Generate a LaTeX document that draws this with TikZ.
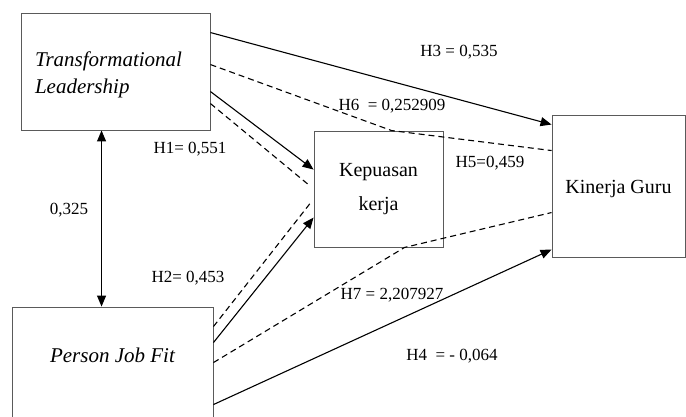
\documentclass[tikz,border=0pt]{standalone}
\usepackage{fontspec}
\setmainfont{Liberation Serif}
\usetikzlibrary{arrows.meta,calc}
\definecolor{boxgray}{HTML}{5A5A5A}
\begin{document}
\begin{tikzpicture}[x=1pt,y=-1pt,
  box/.style={draw=boxgray,line width=0.9pt,inner sep=0pt},
  boxtext/.style={font=\fontsize{20}{27}\selectfont,inner sep=0pt},
  ittext/.style={font=\fontsize{21}{27}\selectfont\itshape,inner sep=0pt},
  lbl/.style={font=\fontsize{17}{20}\selectfont,inner sep=0pt},
  solidarrow/.style={line width=1.1pt,-{Triangle[length=11pt,width=9pt]}},
  dashline/.style={line width=1.1pt,dash pattern=on 6pt off 4pt}]
\useasboundingbox (0,0) rectangle (686,416);
\clip (0,0) rectangle (686,416);
% boxes
\node[box,minimum width=189pt,minimum height=117pt,
  label={[ittext,align=left,text width=161pt,yshift=-3pt]center:Transformational\\Leadership}]
  (tl) at (115.5,71.5) {};
\node[box,minimum width=201pt,minimum height=123pt,
  label={[ittext,yshift=13pt]center:Person Job Fit}]
  (pjf) at (112.5,368.5) {};
\node[box,minimum width=129pt,minimum height=116pt,
  label={[boxtext,align=center,font=\fontsize{20}{34}\selectfont]center:Kepuasan\\kerja}]
  (kk) at (378.5,189) {};
\node[box,minimum width=133pt,minimum height=142pt,
  label={[boxtext,yshift=-3pt]center:Kinerja Guru}]
  (kg) at (618.5,186) {};
% anchor points
\coordinate (tlA) at ($(tl.north east)+(0,20)$);
\coordinate (tlB) at ($(tl.north east)+(0,52)$);
\coordinate (tlC) at ($(tl.north east)+(0,79)$);
\coordinate (tlD) at ($(tl.north east)+(0,91)$);
\coordinate (pjA) at ($(pjf.north east)+(0,20)$);
\coordinate (pjB) at ($(pjf.north east)+(0,36)$);
\coordinate (pjC) at ($(pjf.north east)+(0,56)$);
\coordinate (pjD) at ($(pjf.north east)+(0,98)$);
\coordinate (kkA) at ($(kk.north west)+(0,39)$);
\coordinate (kkB) at ($(kk.north west)+(-4,55)$);
\coordinate (kkC) at ($(kk.north west)+(-2,71)$);
\coordinate (kkD) at ($(kk.north west)+(0,87)$);
\coordinate (kkTop) at ($(kk.north west)+(78,0)$);
\coordinate (kkBot) at ($(kk.south west)+(91,0)$);
\coordinate (kgA) at ($(kg.north west)+(0,10)$);
\coordinate (kgB) at ($(kg.north west)+(0,36)$);
\coordinate (kgC) at ($(kg.north west)+(0,98)$);
\coordinate (kgD) at ($(kg.north west)+(0,135)$);
\coordinate (tlS) at ($(tl.south west)+(81,0)$);
\coordinate (pjN) at ($(pjf.north west)+(90,0)$);
% connectors
\draw[solidarrow] (tlA) -- (kgA);
\draw[dashline] (tlB) -- (kkTop) -- (kgB);
\draw[solidarrow] (tlC) -- (kkA);
\draw[dashline] (tlD) -- (kkB);
\draw[dashline] (pjA) -- (kkC);
\draw[solidarrow] (pjB) -- (kkD);
\draw[dashline] (pjC) -- (kkBot) -- (kgC);
\draw[solidarrow] (pjD) -- (kgD);
\draw[line width=1.1pt,{Triangle[length=11pt,width=9pt]}-{Triangle[length=11pt,width=9pt]}] (tlS) -- (pjN);
% labels
\node[lbl] (l3) at (459,52) {H3 = 0,535};
\node[lbl] (l6) at (392,106) {H6\ \ = 0,252909};
\node[lbl] (l1) at (190,149) {H1= 0,551};
\node[lbl] (l5) at (490,163) {H5=0,459};
\node[lbl] (l0) at (69,210) {0,325};
\node[lbl] (l2) at (188,278) {H2= 0,453};
\node[lbl] (l7) at (392,295) {H7 = 2,207927};
\node[lbl] (l4) at (452,356) {H4\ \ = - 0,064};
\end{tikzpicture}
\end{document}
